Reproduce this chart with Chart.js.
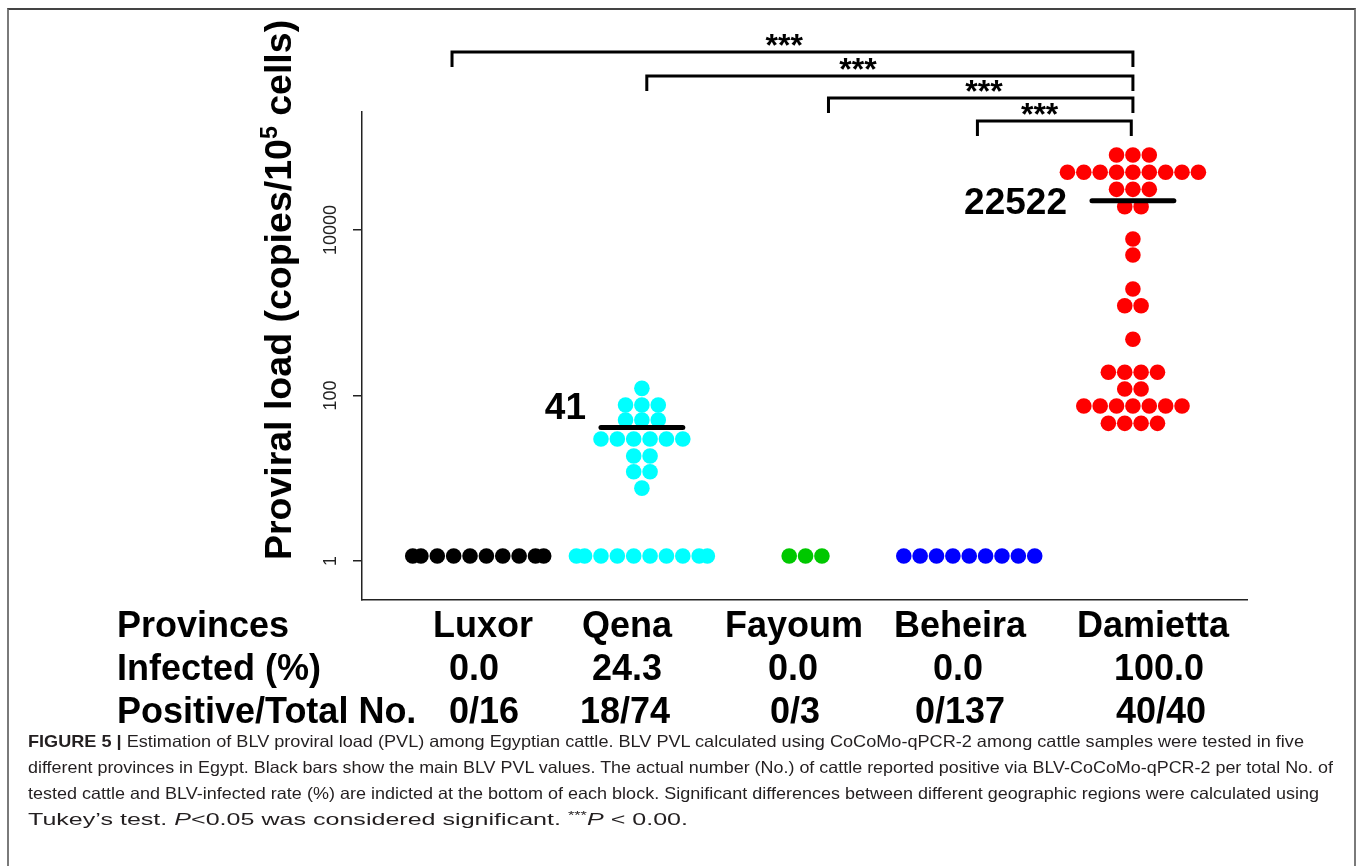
<!DOCTYPE html>
<html><head><meta charset="utf-8">
<script src="https://cdn.jsdelivr.net/npm/chart.js@4.4.1/dist/chart.umd.min.js"></script>
<style>
html,body{margin:0;padding:0;background:#fff;}
#wrap{position:relative;width:1357px;height:866px;overflow:hidden;background:#fff;font-family:"Liberation Sans",Arial,sans-serif;}
#frame{position:absolute;left:7px;top:8px;width:1349px;height:900px;border:2px solid #7a7a7a;border-top-color:#444;box-sizing:border-box;}
canvas{position:absolute;left:0;top:0;}
#ytitle{position:absolute;width:700px;height:40px;line-height:40px;left:-72px;top:270px;transform:rotate(-90deg);text-align:center;font-weight:bold;font-size:37.5px;color:#000;white-space:nowrap;}
#ytitle sup{font-size:0.62em;line-height:0;vertical-align:0.62em;}
.tr{position:absolute;font-weight:bold;font-size:36px;line-height:36px;white-space:nowrap;color:#000;}
.tc{width:300px;text-align:center;}
.cap{position:absolute;left:28px;font-size:16.5px;line-height:26px;height:26px;color:#231f20;white-space:nowrap;transform-origin:0 50%;}
</style></head>
<body><div id="wrap">
<div id="frame"></div>
<canvas id="c" width="1357" height="866"></canvas>
<div id="ytitle">Proviral load (copies/10<sup>5</sup> cells)</div>
<div id="table"></div>
<div id="caption"></div>
</div>
<script>
// ---------------- data ----------------
const provinces = ['Luxor', 'Qena', 'Fayoum', 'Beheira', 'Damietta'];
const infectedPct = ['0.0', '24.3', '0.0', '0.0', '100.0'];
const positiveTotal = ['0/16', '18/74', '0/3', '0/137', '40/40'];
const rowHeaders = ['Provinces', 'Infected (%)', 'Positive/Total No.'];
const meanPVL = [null, 41, null, null, 22522];
const meanLabels = ['', '41', '', '', '22522'];
const yTickValues = [1, 100, 10000];
const pointColors = ['#000000', '#00ffff', '#00c800', '#0000ff', '#ff0000'];

// beeswarm points: PVL value and horizontal swarm slot (in dot widths)
const luxorValues = [1.15, 1.15, 1.15, 1.15, 1.15, 1.15, 1.15, 1.15, 1.15, 1.15];
const luxorSlots  = [-4, -3.5, -2.5, -1.5, -0.5, 0.5, 1.5, 2.5, 3.5, 4];
const qenaValues = [122, 76.8, 76.8, 76.8, 50.6, 50.6, 50.6, 29.8, 29.8, 29.8, 29.8, 29.8, 29.8,
                    18.6, 18.6, 12.0, 12.0, 7.6,
                    1.15, 1.15, 1.15, 1.15, 1.15, 1.15, 1.15, 1.15, 1.15, 1.15];
const qenaSlots  = [0, -1, 0, 1, -1, 0, 1, -2.5, -1.5, -0.5, 0.5, 1.5, 2.5,
                    -0.5, 0.5, -0.5, 0.5, 0,
                    -4, -3.5, -2.5, -1.5, -0.5, 0.5, 1.5, 2.5, 3.5, 4];
const fayoumValues = [1.15, 1.15, 1.15];
const fayoumSlots  = [-1, 0, 1];
const beheiraValues = [1.15, 1.15, 1.15, 1.15, 1.15, 1.15, 1.15, 1.15, 1.15];
const beheiraSlots  = [-4, -3, -2, -1, 0, 1, 2, 3, 4];
const damiettaValues = [80600, 80600, 80600,
                        49800, 49800, 49800, 49800, 49800, 49800, 49800, 49800, 49800,
                        31000, 31000, 31000, 19100, 19100,
                        7780, 4990, 1936, 1217, 1217, 478,
                        190.7, 190.7, 190.7, 190.7, 119.8, 119.8,
                        74.7, 74.7, 74.7, 74.7, 74.7, 74.7, 74.7,
                        46.1, 46.1, 46.1, 46.1];
const damiettaSlots  = [-1, 0, 1,
                        -4, -3, -2, -1, 0, 1, 2, 3, 4,
                        -1, 0, 1, -0.5, 0.5,
                        0, 0, 0, -0.5, 0.5, 0,
                        -1.5, -0.5, 0.5, 1.5, -0.5, 0.5,
                        -3, -2, -1, 0, 1, 2, 3,
                        -1.5, -0.5, 0.5, 1.5];

// significance brackets (x in category-axis units)
const sigFrom  = [0.84, 2.03, 3.14, 4.05];
const sigTo    = [5.0, 5.0, 5.0, 4.99];
const sigText  = ['***', '***', '***', '***'];
const sigTextX = [2.87, 3.32, 4.09, 4.43];

// ---------------- layout ----------------
const dotStep = 0.1;
const barHalf = 0.25;
const bracketY = [52, 76, 98, 121];
const bracketDrop = 15;
const meanLabelDx = [0, -12, 0, 0, -22];
const meanLabelDy = [0, -22, 0, 0, 0];
const tableBaselines = [637, 680, 723];
const tableColX = [[483, 627, 794, 960, 1153], [474, 627, 793, 958, 1159], [484, 625, 795, 960, 1161]];

const allValues = [luxorValues, qenaValues, fayoumValues, beheiraValues, damiettaValues];
const allSlots = [luxorSlots, qenaSlots, fayoumSlots, beheiraSlots, damiettaSlots];

const datasets = [];
meanPVL.forEach((m, i) => {
  if (m == null) return;
  datasets.push({type: 'line', data: [{x: i + 1 - barHalf, y: m}, {x: i + 1 + barHalf, y: m}],
    borderColor: '#000', borderWidth: 5, borderCapStyle: 'round', pointRadius: 0, fill: false, showLine: true});
});
allValues.forEach((vals, i) => {
  datasets.push({type: 'scatter', data: vals.map((v, k) => ({x: i + 1 + allSlots[i][k] * dotStep, y: v})),
    backgroundColor: pointColors[i], borderWidth: 0, pointRadius: 7.8, pointHoverRadius: 7.8});
});

const annot = {
  id: 'annot',
  afterDraw(chart) {
    const ctx = chart.ctx, xs = chart.scales.x, ys = chart.scales.y;
    ctx.save();
    // y tick labels (rotated)
    ctx.fillStyle = '#222';
    ctx.font = '18px "Liberation Sans", Arial, sans-serif';
    ctx.textAlign = 'center';
    ctx.textBaseline = 'alphabetic';
    yTickValues.forEach(v => {
      const y = ys.getPixelForValue(v);
      ctx.save(); ctx.translate(336, y); ctx.rotate(-Math.PI / 2);
      ctx.fillText(String(v), 0, 0); ctx.restore();
    });
    // mean labels
    ctx.fillStyle = '#000';
    ctx.font = 'bold 37px "Liberation Sans", Arial, sans-serif';
    ctx.textAlign = 'right';
    meanPVL.forEach((m, i) => {
      if (m == null) return;
      const x = xs.getPixelForValue(i + 1 - barHalf) + meanLabelDx[i];
      const y = ys.getPixelForValue(m) + meanLabelDy[i];
      ctx.fillText(meanLabels[i], x - 3, y + 13);
    });
    // brackets
    ctx.strokeStyle = '#000'; ctx.lineWidth = 3; ctx.lineJoin = 'miter'; ctx.lineCap = 'butt';
    ctx.font = 'bold 32px "Liberation Sans", Arial, sans-serif';
    ctx.textAlign = 'center';
    sigFrom.forEach((f, i) => {
      const x1 = xs.getPixelForValue(f), x2 = xs.getPixelForValue(sigTo[i]), y = bracketY[i];
      ctx.beginPath(); ctx.moveTo(x1, y + bracketDrop); ctx.lineTo(x1, y); ctx.lineTo(x2, y); ctx.lineTo(x2, y + bracketDrop); ctx.stroke();
      ctx.fillText(sigText[i], xs.getPixelForValue(sigTextX[i]), y - 19 + 0.716 * 32);
    });
    ctx.restore();
  }
};

new Chart(document.getElementById('c'), {
  data: {datasets},
  options: {
    responsive: false, animation: false, events: [],
    layout: {padding: {left: 353, right: 110, top: 112, bottom: 266}},
    plugins: {legend: {display: false}, tooltip: {enabled: false}},
    scales: {
      x: {type: 'linear', min: 0.29, max: 5.697, bounds: 'data',
          ticks: {display: false}, grid: {display: false},
          border: {display: true, color: '#222', width: 1.5},
          afterFit(s) { s.height = 0; }},
      y: {type: 'logarithmic', min: 0.338, max: 266700, bounds: 'data',
          afterBuildTicks(s) { s.ticks = yTickValues.map(v => ({value: v})); },
          ticks: {display: false},
          grid: {display: true, drawOnChartArea: false, drawTicks: true, tickLength: 9, color: '#222', lineWidth: 1.5},
          border: {display: true, color: '#222', width: 1.5},
          afterFit(s) { s.width = 9; }}
    }
  },
  plugins: [annot]
});

// ---------------- table ----------------
const table = document.getElementById('table');
const rows = [provinces, infectedPct, positiveTotal];
rows.forEach((row, r) => {
  const top = tableBaselines[r] - 30.5;
  const h = document.createElement('div');
  h.className = 'tr'; h.style.left = '117px'; h.style.top = top + 'px'; h.textContent = rowHeaders[r];
  table.appendChild(h);
  row.forEach((t, c) => {
    const d = document.createElement('div');
    d.className = 'tr tc'; d.style.left = (tableColX[r][c] - 150) + 'px'; d.style.top = top + 'px'; d.textContent = t;
    table.appendChild(d);
  });
});

// ---------------- caption ----------------
const capLines = [
  '<b>FIGURE 5 |</b> Estimation of BLV proviral load (PVL) among Egyptian cattle. BLV PVL calculated using CoCoMo-qPCR-2 among cattle samples were tested in five',
  'different provinces in Egypt. Black bars show the main BLV PVL values. The actual number (No.) of cattle reported positive via BLV-CoCoMo-qPCR-2 per total No. of',
  'tested cattle and BLV-infected rate (%) are indicted at the bottom of each block. Significant differences between different geographic regions were calculated using',
  'Tukey\u2019s test. <i>P</i>&lt;0.05 was considered significant. <sup style="font-size:0.65em;line-height:0">***</sup><i>P</i> &lt; 0.00.'
];
const capWidths = [1276, 1305, 1291, 660];
const cap = document.getElementById('caption');
capLines.forEach((html, i) => {
  const d = document.createElement('div');
  d.className = 'cap'; d.style.top = (728.3 + i * 26) + 'px'; d.innerHTML = html;
  cap.appendChild(d);
  const w = d.getBoundingClientRect().width;
  d.style.transform = 'scaleX(' + (capWidths[i] / w) + ')';
});
</script>
</body></html>
